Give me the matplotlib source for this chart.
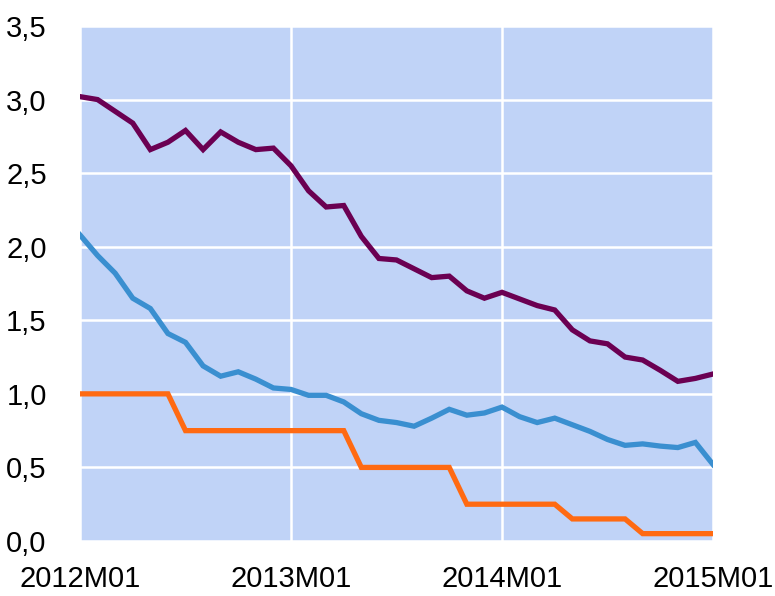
import matplotlib
matplotlib.use('Agg')
from matplotlib import pyplot as plt
import numpy as np

# monthly data, 2012M01 .. 2015M01
purple = [3.02, 3.00, 2.92, 2.84, 2.66, 2.71, 2.79, 2.66, 2.78, 2.71, 2.66, 2.67,
          2.55, 2.38, 2.27, 2.28, 2.07, 1.92, 1.91, 1.85, 1.79, 1.80, 1.70, 1.65,
          1.69, 1.645, 1.60, 1.57, 1.435, 1.36, 1.34, 1.25, 1.23, 1.16, 1.085, 1.105, 1.135]
blue = [2.08, 1.94, 1.82, 1.65, 1.58, 1.41, 1.35, 1.19, 1.12, 1.15, 1.10, 1.04,
        1.03, 0.99, 0.99, 0.945, 0.865, 0.82, 0.805, 0.78, 0.835, 0.895, 0.855, 0.87,
        0.91, 0.845, 0.805, 0.835, 0.79, 0.745, 0.69, 0.65, 0.66, 0.645, 0.635, 0.67, 0.52]
orange = [1.0, 1.0, 1.0, 1.0, 1.0, 1.0, 0.75, 0.75, 0.75, 0.75, 0.75, 0.75,
          0.75, 0.75, 0.75, 0.75, 0.5, 0.5, 0.5, 0.5, 0.5, 0.5, 0.25, 0.25,
          0.25, 0.25, 0.25, 0.25, 0.15, 0.15, 0.15, 0.15, 0.05, 0.05, 0.05, 0.05, 0.05]
tick_pos = [0, 12, 24, 36]
tick_labels = ['2012M01', '2013M01', '2014M01', '2015M01']
y_ticks = [0, 0.5, 1.0, 1.5, 2.0, 2.5, 3.0, 3.5]

plt.rcParams['font.family'] = ['Liberation Sans', 'DejaVu Sans']

fig = plt.figure(figsize=(7.75, 5.96), dpi=100)
ax = fig.add_axes([80 / 775, 1 - 541 / 596, 633 / 775, 515 / 596])
ax.set_facecolor('#c0d3f7')

x = np.arange(len(purple))
ax.plot(x, purple, color='#6b0052', lw=3.8, solid_joinstyle='miter', zorder=3)
ax.plot(x, blue, color='#3a8fd0', lw=3.8, solid_joinstyle='miter', zorder=3)
ax.plot(x, orange, color='#ff6a12', lw=3.8, solid_joinstyle='miter', zorder=3)

ax.set_xlim(0, 36)
ax.set_ylim(0, 3.5)
ax.set_xticks(tick_pos)
ax.set_xticklabels(tick_labels)
ax.set_yticks(y_ticks)
ax.set_yticklabels([f'{v:.1f}'.replace('.', ',') for v in y_ticks])
ax.grid(True, color='white', lw=1.8)
ax.set_axisbelow(True)
for s in ax.spines.values():
    s.set_visible(False)
ax.tick_params(axis='both', length=0, labelsize=21)
ax.tick_params(axis='y', pad=24)
ax.tick_params(axis='x', pad=17)

fig.savefig('out.png', dpi=100)
